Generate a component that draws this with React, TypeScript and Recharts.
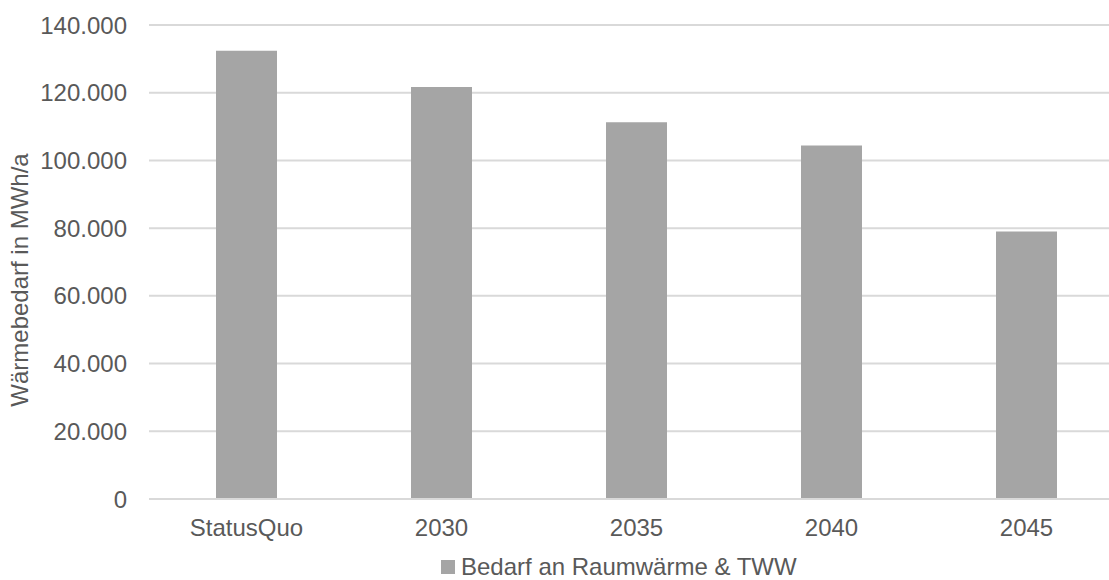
import { Bar, BarChart, CartesianGrid, Legend, XAxis, YAxis } from 'recharts';

const kategorien = ['StatusQuo', '2030', '2035', '2040', '2045'];
const bedarf = [132400, 121700, 111300, 104400, 79000];
const yTicks = [0, 20000, 40000, 60000, 80000, 100000, 120000, 140000];

const serienName = 'Bedarf an Raumwärme & TWW';
const achsenTitel = 'Wärmebedarf in MWh/a';

const data = kategorien.map((k, i) => ({ kategorie: k, wert: bedarf[i] }));

const textFarbe = '#595959';
const balkenFarbe = '#a5a5a5';
const gitterFarbe = '#d9d9d9';
const schrift = '"Liberation Sans", Arial, sans-serif';

const formatDe = (v: number) =>
  String(v).replace(/\B(?=(\d{3})+(?!\d))/g, '.');

function LegendeInhalt() {
  return (
    <div style={{ display: 'flex', alignItems: 'center', fontFamily: schrift, fontSize: 24, lineHeight: '24px', color: textFarbe, whiteSpace: 'nowrap' }}>
      <span style={{ display: 'inline-block', width: 14, height: 14, background: balkenFarbe, marginRight: 6 }} />
      <span>{serienName}</span>
    </div>
  );
}

function AchsenTitel() {
  return (
    <text
      x={28}
      y={280}
      transform="rotate(-90 28 280)"
      textAnchor="middle"
      fill={textFarbe}
      fontSize={24}
      fontFamily={schrift}
    >
      {achsenTitel}
    </text>
  );
}

export default function App() {
  return (
    <div style={{ position: 'absolute', left: 0, top: 0, width: 1109, height: 580, overflow: 'hidden', background: '#fff' }}>
      <BarChart
        width={1124}
        height={580}
        data={data}
        margin={{ top: 25, right: 0, left: 0, bottom: 51 }}
      >
        <CartesianGrid vertical={false} stroke={gitterFarbe} strokeWidth={2} />
        <XAxis
          dataKey="kategorie"
          height={30}
          tickLine={false}
          tickSize={0}
          tickMargin={20}
          axisLine={{ stroke: gitterFarbe, strokeWidth: 2 }}
          tick={{ fill: textFarbe, fontSize: 24, fontFamily: schrift }}
        />
        <YAxis
          width={149}
          domain={[0, 140000]}
          ticks={yTicks}
          interval={0}
          tickFormatter={formatDe}
          axisLine={false}
          tickLine={false}
          tickSize={0}
          tickMargin={22}
          tick={{ fill: textFarbe, fontSize: 24, fontFamily: schrift }}
          label={<AchsenTitel />}
        />
        <Legend
          layout="horizontal"
          verticalAlign="middle"
          align="center"
          content={<LegendeInhalt />}
          wrapperStyle={{ top: 555, left: 441, width: 'auto' }}
        />
        <Bar dataKey="wert" name={serienName} fill={balkenFarbe} barSize={61} isAnimationActive={false} />
      </BarChart>
    </div>
  );
}
